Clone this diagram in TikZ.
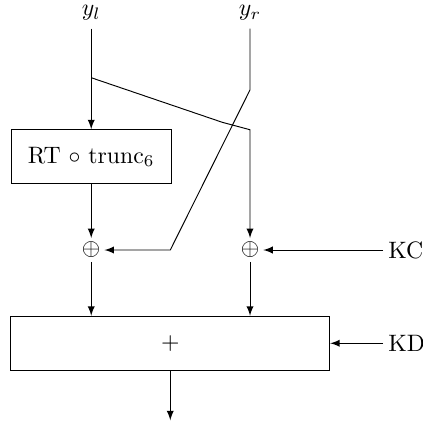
\documentclass[tikz,border=0pt]{standalone}
\usepackage{amsmath,amssymb}
\usetikzlibrary{arrows}

\begin{document}
\begin{tikzpicture}[>=latex]
\useasboundingbox (0,0) rectangle (6.25,-6.26);
\tikzset{opbox/.style={draw, inner sep=0pt, minimum height=0.8cm}}
\node (yl) at (1.35,-0.19) {$y_l$};
\node (yr) at (3.70,-0.19) {$y_r$};
\node[opbox, minimum width=2.37cm] (rt) at (1.35,-2.32) {RT $\circ$ trunc$_6$};
\node[inner sep=1.5pt] (xl) at (1.35,-3.70) {$\oplus$};
\node[inner sep=1.5pt] (xr) at (3.70,-3.70) {$\oplus$};
\node[anchor=west, inner sep=2pt] (kc) at (5.67,-3.70) {KC};
\node[opbox, minimum width=4.72cm] (sum) at (2.52,-5.08) {$+$};
\node[anchor=west, inner sep=2pt] (kd) at (5.67,-5.08) {KD};
\coordinate (br) at (1.35,-1.15);
\coordinate (b1) at (3.29,-1.81);
\coordinate (b2) at (3.70,-1.92);
\coordinate (r1) at (3.70,-1.33);
\coordinate (r2) at (2.52,-3.70);
\coordinate (out) at (2.52,-6.22);
\draw[->] (yl) to (rt);
\draw[->] (br) -- (b1) -- (b2) -- (xr);
\draw[->] (yr) -- (r1) -- (r2) -- (xl);
\draw[->] (rt) to (xl);
\draw[->] (kc) to (xr);
\draw[->] (xl) to (xl |- sum.north);
\draw[->] (xr) to (xr |- sum.north);
\draw[->] (kd) to (sum);
\draw[->] (sum) to (out);
\end{tikzpicture}
\end{document}
